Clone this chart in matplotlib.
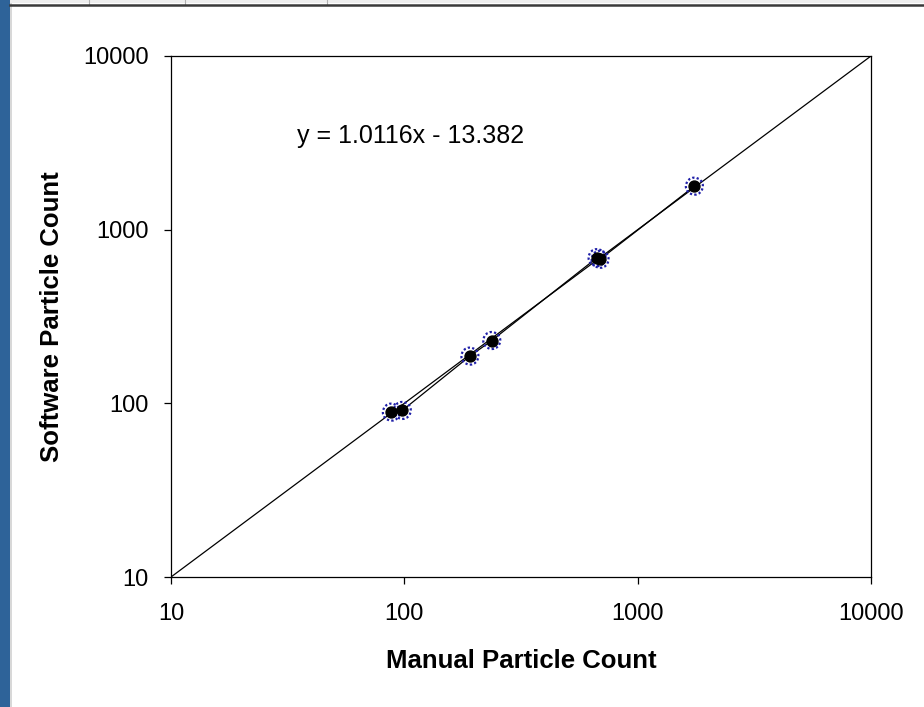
import matplotlib
matplotlib.use("Agg")
import matplotlib.pyplot as plt
from matplotlib.lines import Line2D
from matplotlib.patches import Rectangle

plt.rcParams["font.family"] = ["Liberation Sans", "DejaVu Sans"]

# ── データ ─────────────────────────────────────────────
manual = [88, 98, 191, 237, 670, 690, 1750]
software = [89, 91, 187, 230, 690, 675, 1780]
ref_line = [10, 10000]
tick_vals = [10, 100, 1000, 10000]
tick_labels = ["10", "100", "1000", "10000"]
equation = "y = 1.0116x - 13.382"

W, H = 924, 707
fig = plt.figure(figsize=(W / 100, H / 100), dpi=100)
fig.patch.set_facecolor("white")

# 画面キャプチャの枠（左の青帯・上の罫線）
fig.add_artist(Rectangle((0, 0), 10 / W, 1, transform=fig.transFigure,
                         facecolor="#2e6399", edgecolor="none"))
fig.add_artist(Rectangle((10 / W, 0), 2 / W, 1, transform=fig.transFigure,
                         facecolor="#d8d8d8", edgecolor="none"))
fig.add_artist(Rectangle((10 / W, 1 - 3 / H), 1, 3 / H, transform=fig.transFigure,
                         facecolor="#eeeeee", edgecolor="none"))
for xp in [89, 185, 327]:
    fig.add_artist(Line2D([xp / W, xp / W], [1 - 4 / H, 1], transform=fig.transFigure,
                          color="#b0b0b0", lw=0.8))
fig.add_artist(Line2D([10 / W, 1], [1 - 4.5 / H, 1 - 4.5 / H], transform=fig.transFigure,
                      color="#3a3a3a", lw=1.8))

ax = fig.add_axes([171 / W, (H - 577) / H, 700 / W, 521 / H])
ax.set_xscale("log")
ax.set_yscale("log")
ax.set_xlim(10, 10000)
ax.set_ylim(10, 10000)

ax.plot(ref_line, ref_line, color="black", lw=0.9, zorder=2)
pts = sorted(zip(manual, software))
ax.plot([p[0] for p in pts], [p[1] for p in pts], color="black", lw=0.9, zorder=2)

# マーカー：黒丸 + 青い点線の輪
ax.scatter(manual, software, s=150, facecolors="none", edgecolors="#1f1fa8",
           linewidths=1.6, linestyles=(0, (1, 1)), zorder=3)
ax.scatter(manual, software, s=62, color="black", zorder=4)

ax.set_xticks(tick_vals)
ax.set_xticklabels(tick_labels)
ax.set_yticks(tick_vals)
ax.set_yticklabels(tick_labels)
ax.minorticks_off()
ax.tick_params(direction="out", length=5, width=0.9, labelsize=17)
ax.tick_params(axis="x", pad=14)
ax.tick_params(axis="y", pad=11)

for sp in ax.spines.values():
    sp.set_color("black")
    sp.set_linewidth(0.9)

ax.set_xlabel("Manual Particle Count", fontsize=18.5, fontweight="bold", labelpad=17)
ax.set_ylabel("Software Particle Count", fontsize=18.5, fontweight="bold", labelpad=14)

ax.text(0.18, 0.8465, equation, transform=ax.transAxes, fontsize=18,
        ha="left", va="center")

fig.savefig("out.png", dpi=100)
